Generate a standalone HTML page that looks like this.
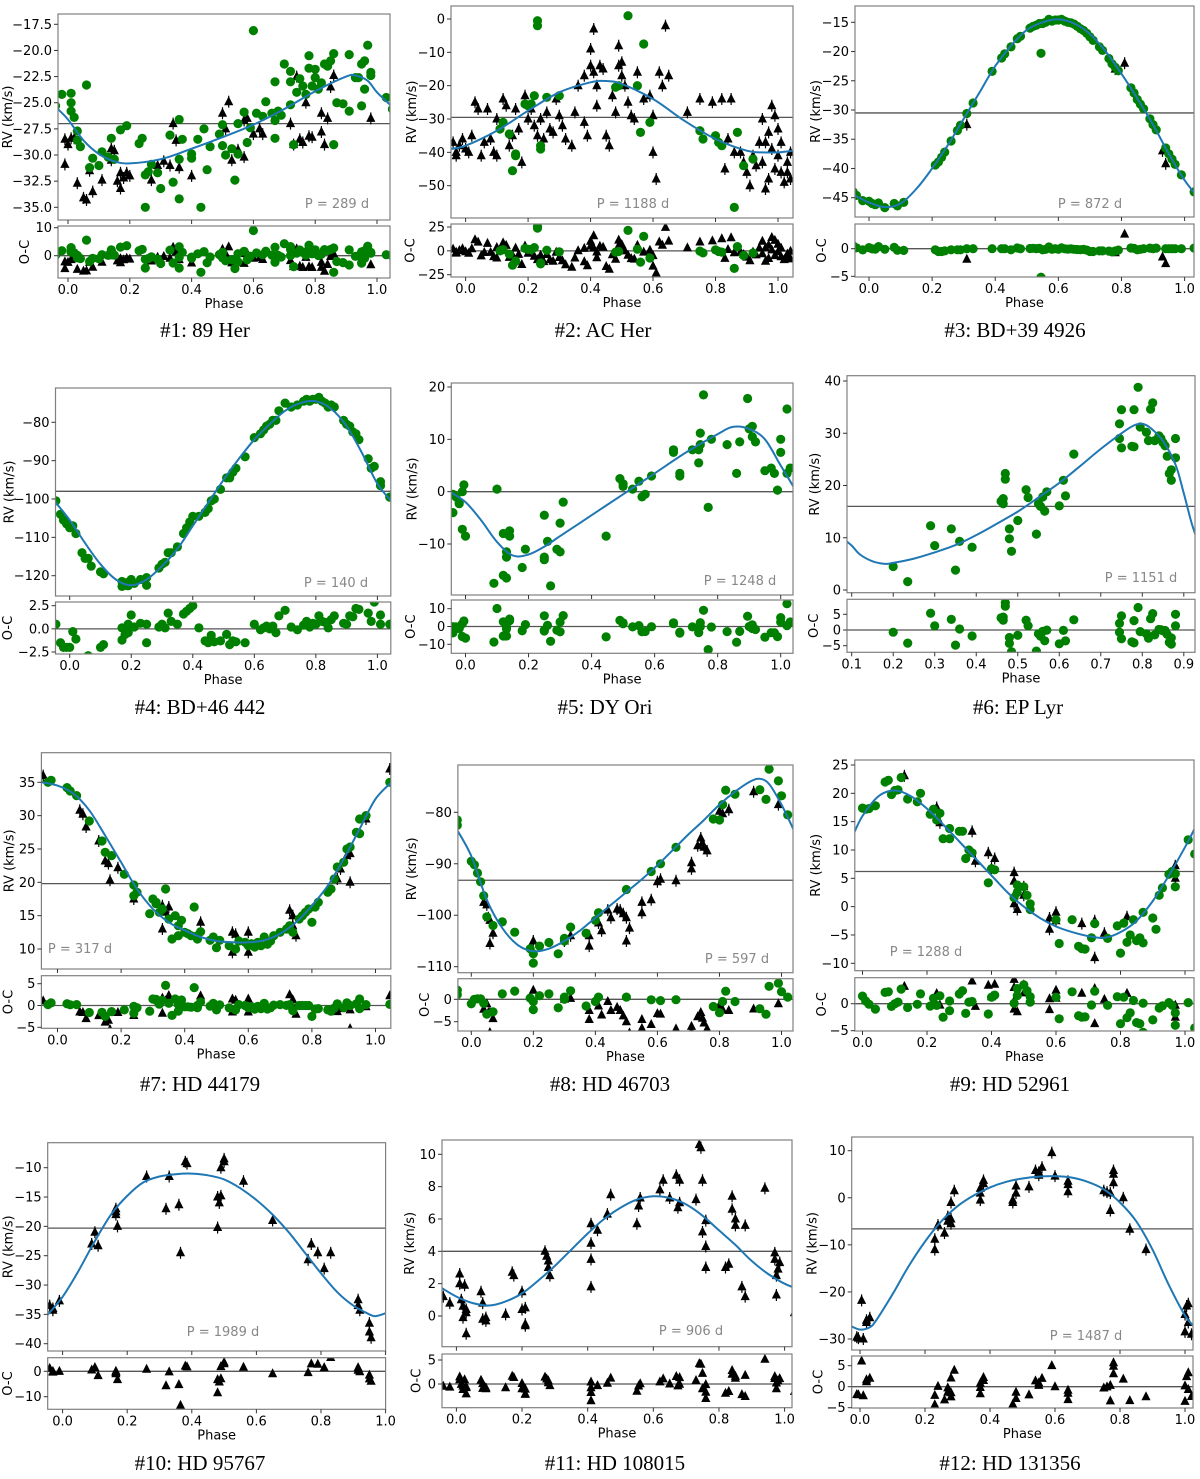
<!DOCTYPE html>
<html><head><meta charset="utf-8"><title>RV curves</title>
<style>
html,body{margin:0;padding:0;background:#fff;}
svg{display:block;}
text{font-family:"DejaVu Sans","Liberation Sans",sans-serif;}
text.title{font-family:"Liberation Serif",serif;font-size:21px;fill:#000;}
</style></head>
<body>
<svg id="fig" width="1200" height="1479" viewBox="0 0 1200 1479" xmlns="http://www.w3.org/2000/svg"></svg>
<script>
var p1Curve=[[-0.04,-25.4],[0,-26.6],[0.05,-28.6],[0.1,-29.9],[0.15,-30.6],[0.2,-30.8],[0.3,-30.4],[0.4,-29.4],[0.5,-28.3],[0.6,-27.1],[0.7,-25.6],[0.8,-23.9],[0.9,-22.5],[0.93,-22.4],[0.97,-22.9],[1.0,-24.0],[1.05,-25.4]];
var p1Green=[[-0.04,-25.3],[-0.02,-24.2],[0.01,-25],[0.01,-25.8],[0.01,-24.1],[0.02,-26.4],[0.04,-29.2],[0.06,-23.3],[0.03,-27.7],[0.03,-28.6],[0.07,-31.2],[0.08,-30.3],[0.1,-31],[0.11,-29.7],[0.13,-30.2],[0.14,-28.4],[0.15,-30.4],[0.17,-27.6],[0.19,-27.2],[0.23,-28.9],[0.24,-28.4],[0.25,-31.9],[0.25,-35],[0.26,-31.6],[0.27,-30.9],[0.29,-31.7],[0.3,-33.2],[0.33,-28.1],[0.34,-32.6],[0.36,-34.2],[0.36,-30.4],[0.37,-28.5],[0.36,-26.6],[0.4,-29.9],[0.4,-30.3],[0.42,-28.5],[0.43,-35],[0.44,-27.5],[0.45,-31.4],[0.46,-29.2],[0.49,-28],[0.5,-27.1],[0.5,-29.1],[0.51,-30],[0.53,-29.4],[0.54,-32.4],[0.55,-29.9],[0.55,-27],[0.57,-25.9],[0.58,-28.8],[0.59,-27.4],[0.6,-18.1],[0.61,-26],[0.63,-26.3],[0.64,-24.9],[0.66,-26],[0.67,-23],[0.67,-26.7],[0.67,-28.4],[0.68,-25.8],[0.69,-26.2],[0.7,-21.3],[0.72,-22],[0.72,-23],[0.72,-25.2],[0.73,-29],[0.74,-24],[0.75,-22.7],[0.76,-23.4],[0.77,-24.2],[0.78,-21.7],[0.78,-20.5],[0.79,-23.4],[0.8,-21.8],[0.8,-22.6],[0.81,-23.7],[0.82,-23.1],[0.83,-21.3],[0.84,-21.5],[0.85,-21],[0.86,-20.3],[0.86,-29],[0.87,-25],[0.89,-25.1],[0.91,-20.4],[0.91,-25.8],[0.93,-22.6],[0.94,-22.6],[0.95,-25.3],[0.95,-21.3],[0.96,-23.7],[0.96,-21],[0.97,-19.5],[0.98,-22.1],[0.98,-22.4],[1.03,-24.5],[1.05,-25.6]];
var p1Tri=[[-0.01,-28.5],[-0.01,-30.9],[0,-29],[0.01,-28.4],[0.02,-28.4],[0.03,-32.7],[0.05,-34.1],[0.06,-34.3],[0.07,-31.5],[0.08,-33.5],[0.11,-32.4],[0.14,-29.4],[0.14,-30.5],[0.15,-29.6],[0.16,-32.5],[0.17,-31.7],[0.17,-33.2],[0.18,-32.2],[0.19,-31.7],[0.2,-32],[0.27,-32.4],[0.29,-31],[0.31,-30.6],[0.33,-31],[0.34,-27],[0.35,-28.6],[0.36,-31.2],[0.4,-32],[0.5,-26],[0.51,-27.5],[0.52,-24.9],[0.53,-30.5],[0.55,-29.5],[0.57,-26.7],[0.57,-30.2],[0.58,-26.5],[0.6,-28],[0.62,-27.5],[0.63,-28],[0.72,-27],[0.73,-29],[0.74,-22.5],[0.75,-28.5],[0.76,-28.8],[0.77,-25],[0.78,-28.2],[0.79,-28.3],[0.82,-26],[0.82,-27.8],[0.83,-29],[0.84,-26.5],[0.85,-23.5],[0.86,-22.4],[0.98,-26.5]];
var p2Curve=[[-0.05,-39],[0,-38],[0.1,-33.5],[0.2,-27.5],[0.3,-22],[0.4,-19],[0.45,-18.6],[0.5,-19.5],[0.6,-24],[0.7,-30.5],[0.8,-36],[0.9,-39.5],[0.95,-40],[1.0,-40],[1.05,-39.5]];
var p2Green=[[0.11,-33],[0.12,-31],[0.14,-34.5],[0.16,-41],[0.16,-40.5],[0.15,-45.5],[0.19,-25.5],[0.2,-26],[0.21,-25.5],[0.22,-23],[0.23,-0.5],[0.23,-2],[0.24,-38],[0.24,-39],[0.26,-23.5],[0.3,-23],[0.52,1],[0.48,-20.5],[0.55,-20],[0.56,-34],[0.57,-7.5],[0.59,-31],[0.75,-33.5],[0.76,-36],[0.8,-35],[0.81,-37],[0.82,-38],[0.86,-56.5],[0.87,-34],[0.89,-44],[0.92,-42],[0.49,-20]];
var p2Tri=[[-0.04,-37],[-0.03,-40],[-0.03,-41],[-0.02,-38],[-0.01,-36],[0,-39],[0.01,-40],[0.02,-35],[0.03,-25],[0.04,-27],[0.05,-41],[0.06,-37],[0.07,-27],[0.08,-36],[0.09,-40],[0.1,-30],[0.1,-41],[0.12,-24],[0.13,-26],[0.14,-38],[0.15,-35],[0.16,-27],[0.17,-33],[0.18,-43],[0.19,-23],[0.2,-30],[0.21,-27],[0.22,-32],[0.23,-35],[0.24,-30],[0.25,-36],[0.26,-28],[0.27,-33],[0.28,-34],[0.29,-24],[0.3,-29],[0.31,-32],[0.32,-36],[0.34,-38],[0.35,-28],[0.36,-20],[0.38,-17],[0.38,-31],[0.39,-35],[0.4,-14],[0.41,-16],[0.42,-20],[0.42,-26],[0.43,-14],[0.44,-15],[0.45,-35],[0.46,-38],[0.47,-23],[0.48,-28],[0.49,-14],[0.5,-13],[0.5,-17],[0.51,-20],[0.52,-25],[0.53,-29],[0.54,-30],[0.55,-16],[0.57,-24],[0.59,-23],[0.6,-29],[0.62,-16],[0.63,-20],[0.64,-2],[0.65,-17],[0.6,-40],[0.61,-48],[0.71,-28],[0.75,-24],[0.79,-25],[0.82,-24],[0.84,-36],[0.85,-24],[0.88,-40],[0.9,-46],[0.92,-41],[0.93,-44],[0.94,-37],[0.95,-43],[0.96,-51],[0.97,-48],[0.98,-39],[0.98,-26],[0.99,-45],[1.0,-33],[1.0,-41],[1.01,-37],[1.02,-49],[1.03,-46],[1.03,-43],[1.04,-40],[1.04,-48],[0.91,-50],[0.89,-43],[0.95,-30],[0.96,-37],[0.97,-34],[1.01,-46],[0.99,-29],[0.83,-45],[0.86,-40],[0.41,-3],[0.4,-9],[0.49,-8]];
var p3Curve=[[-0.05,-44.5],[0,-45.8],[0.05,-46.6],[0.1,-46],[0.15,-43.5],[0.2,-40],[0.25,-36],[0.3,-31.5],[0.35,-27],[0.4,-22.5],[0.45,-19],[0.5,-16.3],[0.55,-15],[0.6,-14.5],[0.65,-15.2],[0.7,-17],[0.75,-20],[0.8,-23.8],[0.85,-28],[0.9,-32.5],[0.95,-37.5],[1.0,-42],[1.05,-45.5]];
var p3Green=[[-0.05,-44],[-0.04,-44.6],[-0.02,-45.5],[0,-45.6],[0.01,-46],[0.02,-46.2],[0.03,-45.9],[0.05,-46.7],[0.08,-46],[0.09,-46.4],[0.11,-45.8],[0.21,-39.4],[0.22,-38.9],[0.23,-38.1],[0.24,-37.2],[0.26,-35.3],[0.28,-33.5],[0.29,-32.6],[0.31,-30.6],[0.33,-28.8],[0.39,-23.4],[0.42,-21.1],[0.43,-20.4],[0.45,-19.2],[0.47,-17.8],[0.48,-17.4],[0.51,-16],[0.52,-15.7],[0.53,-15.5],[0.54,-15.2],[0.545,-20.3],[0.55,-15.2],[0.56,-15],[0.57,-14.5],[0.58,-14.8],[0.59,-14.6],[0.6,-14.6],[0.61,-14.5],[0.62,-14.8],[0.63,-15],[0.64,-15.1],[0.65,-15.3],[0.66,-15.7],[0.67,-16.1],[0.68,-16.4],[0.69,-16.9],[0.7,-17.5],[0.71,-18.1],[0.73,-19.2],[0.74,-19.8],[0.76,-21.2],[0.77,-22.1],[0.78,-22.7],[0.79,-23.3],[0.83,-26.2],[0.84,-27.1],[0.85,-28.2],[0.86,-29],[0.87,-29.8],[0.89,-31.5],[0.9,-32.5],[0.91,-33.4],[0.94,-36.5],[0.95,-37.5],[0.96,-38.4],[0.97,-39.3],[0.99,-41.1],[1.03,-44]];
var p3Tri=[[0.31,-32.5],[0.78,-23],[0.81,-22],[0.93,-37],[0.94,-39.2]];
var p4Curve=[[-0.05,-100.5],[0,-105.5],[0.05,-111.5],[0.1,-117],[0.15,-121],[0.2,-122.5],[0.25,-121],[0.3,-117.5],[0.35,-113],[0.4,-107],[0.45,-101],[0.5,-95],[0.55,-89.5],[0.6,-84.5],[0.65,-80.5],[0.7,-77],[0.75,-75],[0.8,-74.5],[0.85,-76.5],[0.9,-81],[0.95,-88],[1.0,-96],[1.05,-101]];
var p4Green=[[-0.045,-100.5],[-0.03,-104],[-0.02,-105.5],[-0.01,-106.5],[0,-107.5],[0.01,-107],[0.02,-109],[0.04,-114],[0.05,-115.5],[0.06,-115.5],[0.07,-117.5],[0.1,-119],[0.11,-119.5],[0.17,-122.8],[0.17,-121.5],[0.18,-122.5],[0.19,-121.7],[0.19,-122.6],[0.2,-121],[0.21,-122],[0.23,-121],[0.25,-122.5],[0.25,-120.5],[0.29,-118],[0.3,-117],[0.31,-116.5],[0.32,-114],[0.33,-114],[0.35,-112.5],[0.37,-109],[0.38,-107.5],[0.39,-106],[0.4,-104.5],[0.42,-104.5],[0.44,-103.5],[0.45,-102.5],[0.46,-100.5],[0.47,-100],[0.49,-97.5],[0.51,-94.5],[0.52,-94.5],[0.53,-93],[0.54,-92],[0.57,-89],[0.6,-84],[0.62,-83],[0.63,-82],[0.64,-81],[0.65,-80.5],[0.66,-79.5],[0.67,-79.5],[0.68,-77],[0.7,-75],[0.72,-76],[0.74,-75.5],[0.76,-74.5],[0.77,-74],[0.78,-74.5],[0.79,-74],[0.8,-74],[0.81,-73.5],[0.82,-74.5],[0.83,-75],[0.84,-76],[0.85,-75.5],[0.86,-76],[0.89,-79.5],[0.9,-80.5],[0.91,-81],[0.92,-82.5],[0.93,-83],[0.94,-84.5],[0.97,-89.5],[0.98,-92],[0.99,-91.5],[1.01,-95.5],[1.01,-96.5],[1.04,-99.5]];
var p4Tri=[];
var p5Curve=[[-0.05,0],[0,-2],[0.05,-5.5],[0.1,-9.6],[0.15,-12.2],[0.2,-12],[0.25,-10.5],[0.3,-8.5],[0.4,-4.5],[0.5,-0.5],[0.6,3.5],[0.7,7.5],[0.8,11],[0.85,12.4],[0.9,12],[0.95,10],[1.0,5],[1.05,0]];
var p5Green=[[-0.04,-4],[-0.04,-0.5],[-0.03,-1],[-0.02,-2],[-0.01,0],[-0.005,1.3],[-0.02,-2.3],[-0.01,-7.2],[0,-8.5],[0.1,0.5],[0.12,-8],[0.14,-7.5],[0.14,-8.5],[0.13,-11.5],[0.13,-12.5],[0.12,-16],[0.13,-16.5],[0.09,-17.5],[0.19,-11],[0.18,-14.5],[0.25,-12.5],[0.25,-13],[0.26,-9.5],[0.25,-4.5],[0.3,-11.5],[0.29,-11],[0.3,-6],[0.31,-2],[0.27,-18],[0.446,-8.5],[0.49,2.5],[0.5,1.5],[0.5,1],[0.53,0.5],[0.55,2],[0.56,-1],[0.57,-0.5],[0.59,3],[0.66,7.5],[0.66,8],[0.68,3.5],[0.68,3],[0.72,8],[0.74,8],[0.74,5.5],[0.745,9],[0.745,11.2],[0.755,18.5],[0.77,-3],[0.78,10],[0.83,9],[0.86,3.5],[0.87,9.5],[0.895,17.8],[0.9,12],[0.91,12.5],[0.91,10.5],[0.92,9.5],[0.95,4],[0.97,4.5],[0.98,3.5],[0.99,0.3],[1.0,7.5],[1.0,10],[1.02,15.8],[1.02,3.5],[1.03,4.5]];
var p5Tri=[];
var p6Curve=[[0.08,9.8],[0.1,8.5],[0.12,6.8],[0.15,5.5],[0.18,5],[0.2,5.2],[0.25,6],[0.3,7.2],[0.35,8.6],[0.4,10.5],[0.45,12.7],[0.5,15],[0.55,17.7],[0.6,20.5],[0.65,23.7],[0.7,27],[0.75,30],[0.78,31.5],[0.8,31.8],[0.82,31],[0.85,28.5],[0.88,24],[0.9,18.5],[0.92,12.5],[0.94,8]];
var p6Green=[[0.2,4.5],[0.235,1.6],[0.29,12.3],[0.3,8.5],[0.34,11.7],[0.35,3.8],[0.36,9.3],[0.39,8.2],[0.46,17],[0.465,16.5],[0.465,17.5],[0.47,22.3],[0.47,21.2],[0.48,11.7],[0.48,9.8],[0.485,7.4],[0.5,13.3],[0.52,19.2],[0.525,17.7],[0.545,10.7],[0.55,16.5],[0.555,16],[0.56,17.8],[0.565,15.1],[0.57,18.8],[0.6,16.1],[0.61,21],[0.615,18],[0.635,26],[0.745,31.8],[0.745,29],[0.75,34.5],[0.75,27.2],[0.775,27.5],[0.78,34.5],[0.78,27.4],[0.79,38.8],[0.795,31.2],[0.81,30.2],[0.815,28.6],[0.82,34.6],[0.825,35.8],[0.83,28.6],[0.84,29.5],[0.845,29],[0.85,28.2],[0.855,27.6],[0.86,25.6],[0.865,22.3],[0.87,23],[0.87,21],[0.88,25.3],[0.88,29]];
var p6Tri=[];
var p7Curve=[[-0.05,35],[0,34.5],[0.05,33.3],[0.1,30.8],[0.15,27],[0.2,23],[0.25,19],[0.3,16],[0.35,14],[0.4,12.8],[0.45,11.8],[0.5,11.2],[0.55,11],[0.6,11],[0.65,11.3],[0.7,12.3],[0.75,14],[0.8,16.5],[0.85,19.5],[0.9,23.5],[0.95,28],[1.0,32.5],[1.05,35]];
var p7Green=[[-0.03,35],[-0.02,35.3],[0.03,34.2],[0.04,33.7],[0.06,33],[0.1,29.2],[0.14,26.2],[0.15,24.5],[0.17,24],[0.21,21.2],[0.24,19.6],[0.24,18],[0.25,18.5],[0.29,15.3],[0.3,17.5],[0.31,17],[0.31,16.8],[0.32,15.5],[0.33,16],[0.34,19],[0.35,14.5],[0.36,11.5],[0.37,15],[0.38,13.5],[0.38,12],[0.39,14.3],[0.4,12.5],[0.41,12.3],[0.42,12],[0.43,16.3],[0.44,12],[0.44,11.5],[0.45,12.6],[0.48,11.3],[0.49,11.8],[0.5,10.2],[0.51,11.3],[0.54,10.5],[0.56,10],[0.57,11.2],[0.59,11],[0.6,10.5],[0.61,10.8],[0.62,10.3],[0.63,11],[0.64,10.5],[0.65,11.8],[0.66,10.7],[0.67,11.2],[0.68,12],[0.7,12.5],[0.72,13],[0.73,13.5],[0.74,12.5],[0.76,14.5],[0.77,15],[0.78,15.5],[0.79,16],[0.8,14],[0.81,16.3],[0.82,17],[0.85,18.5],[0.86,19],[0.87,20.5],[0.88,22.3],[0.9,23],[0.91,25],[0.92,25.3],[0.94,27.5],[0.95,27.3],[0.95,29.5],[0.97,30],[1.045,35]];
var p7Tri=[[-0.045,36],[0.07,30.8],[0.08,30.2],[0.09,28.3],[0.13,26.2],[0.15,23.2],[0.16,22.8],[0.165,20.3],[0.19,22.2],[0.24,17.5],[0.33,16.5],[0.33,13],[0.34,15.5],[0.35,16.3],[0.45,14],[0.55,12.5],[0.55,9.5],[0.56,12.2],[0.6,9.5],[0.6,12.5],[0.73,15.8],[0.74,15],[0.74,13.5],[0.75,12],[0.88,20.5],[0.89,22],[0.91,24],[0.92,24.3],[0.92,20],[0.97,29.5],[1.045,37]];
var p8Curve=[[-0.05,-83],[0,-88.5],[0.05,-97],[0.1,-102.5],[0.15,-105.8],[0.2,-107],[0.25,-106.5],[0.3,-105],[0.35,-103],[0.4,-100.5],[0.45,-98],[0.5,-95.5],[0.55,-93],[0.6,-90.3],[0.65,-87.3],[0.7,-84.3],[0.75,-81.5],[0.8,-78.5],[0.85,-76],[0.9,-74],[0.93,-73.5],[0.96,-74.5],[1.0,-78.5],[1.04,-83.5]];
var p8Green=[[-0.045,-81.5],[-0.045,-82.5],[0,-89.5],[0.01,-90.2],[0.02,-91.8],[0.03,-93.5],[0.04,-96.2],[0.05,-100.3],[0.07,-102],[0.1,-101.3],[0.14,-103.3],[0.19,-106.5],[0.2,-107.5],[0.2,-109.3],[0.22,-106],[0.25,-105.3],[0.28,-107.5],[0.3,-104.5],[0.3,-105],[0.32,-102.3],[0.37,-103.5],[0.4,-101],[0.41,-99.5],[0.5,-95],[0.58,-91.5],[0.61,-90],[0.66,-86.8],[0.78,-81.3],[0.8,-81.5],[0.81,-78.5],[0.82,-75.7],[0.85,-76.5],[0.93,-75.6],[0.95,-77.5],[0.96,-71.6],[0.99,-73.9],[1.0,-76.8],[1.02,-80.5]];
var p8Tri=[[0.04,-97.5],[0.05,-98],[0.055,-100.5],[0.06,-101],[0.07,-103.5],[0.06,-105.5],[0.2,-105],[0.3,-105],[0.32,-104],[0.38,-104],[0.38,-106],[0.41,-101.5],[0.42,-103],[0.44,-99],[0.45,-100.5],[0.47,-98.8],[0.48,-99],[0.49,-99.7],[0.5,-100.5],[0.51,-102.5],[0.5,-105],[0.55,-97.5],[0.55,-99.5],[0.58,-97],[0.6,-93.5],[0.61,-93],[0.66,-93.3],[0.71,-89.8],[0.71,-91],[0.73,-86.5],[0.74,-85],[0.745,-86],[0.75,-86.8],[0.76,-87.5],[0.8,-79.8],[0.81,-80.3],[0.83,-79.5],[0.91,-76],[0.99,-78.5]];
var p9Curve=[[-0.03,12.5],[0,16],[0.05,19.5],[0.1,20.5],[0.15,19.5],[0.2,17.3],[0.25,14.5],[0.3,11.5],[0.35,8.5],[0.4,5.5],[0.45,2.5],[0.5,0],[0.55,-2],[0.6,-3.5],[0.65,-4.5],[0.7,-5.2],[0.75,-5.5],[0.8,-4.5],[0.85,-2.5],[0.9,1],[0.95,5.5],[1.0,10.5],[1.03,13.8]];
var p9Green=[[0,17.4],[0.01,17.2],[0.02,17.3],[0.04,17.8],[0.07,22],[0.08,22.3],[0.09,19.8],[0.1,20.5],[0.11,20.6],[0.12,22.8],[0.14,19],[0.17,18.5],[0.18,20],[0.21,16.3],[0.22,17.2],[0.23,15.3],[0.24,16.5],[0.25,12],[0.27,13.8],[0.27,12],[0.3,13.3],[0.31,13.3],[0.32,8.5],[0.33,10],[0.34,9.5],[0.39,4.2],[0.4,6.7],[0.41,6.5],[0.47,1.6],[0.48,2.5],[0.48,3.8],[0.5,3.5],[0.51,2],[0.52,-0.5],[0.52,0.5],[0.6,-2.3],[0.61,-6.5],[0.65,-2.3],[0.67,-7],[0.68,-7.4],[0.69,-7.5],[0.71,-5.5],[0.72,-3],[0.76,-5.6],[0.79,-3.4],[0.8,-8.2],[0.81,-2.9],[0.82,-6.3],[0.83,-5],[0.84,-2.3],[0.85,-6],[0.86,-5.5],[0.87,-6.4],[0.87,-1],[0.9,-2],[0.91,-4],[0.92,2],[0.93,3.3],[0.95,5.7],[0.96,6.2],[0.97,5.8],[0.97,3.5],[1.01,11.8],[1.03,9.3]];
var p9Tri=[[0.13,23.1],[0.23,17.5],[0.24,14.8],[0.34,13.3],[0.35,8],[0.39,9.5],[0.4,6.8],[0.41,8.5],[0.47,6],[0.47,4.5],[0.47,2],[0.47,0.5],[0.48,-0.5],[0.5,3.5],[0.5,2],[0.58,-2],[0.58,-4],[0.6,-2.5],[0.6,-1],[0.68,-3],[0.72,-2.5],[0.72,-9],[0.75,-4.7],[0.82,-1.8],[0.97,7.2],[0.97,5]];
var p10Curve=[[-0.05,-35.3],[0,-32],[0.05,-27.5],[0.1,-22.5],[0.15,-18],[0.2,-14.8],[0.25,-12.5],[0.3,-11.5],[0.35,-11.1],[0.4,-11],[0.45,-11.3],[0.5,-12],[0.55,-13.5],[0.6,-15.5],[0.65,-18],[0.7,-21],[0.75,-24.5],[0.8,-28],[0.85,-31.2],[0.9,-33.5],[0.95,-35],[0.97,-35.3],[1.0,-34.8]];
var p10Green=[];
var p10Tri=[[-0.04,-33.5],[-0.03,-34],[-0.03,-34.3],[-0.01,-32.7],[0.09,-23],[0.1,-21],[0.11,-23.3],[0.165,-17.5],[0.165,-18],[0.17,-20],[0.165,-17],[0.26,-11.5],[0.33,-11.5],[0.32,-17],[0.36,-16.3],[0.365,-24.5],[0.38,-9],[0.385,-9.3],[0.48,-20.2],[0.48,-15],[0.485,-16],[0.49,-14.8],[0.49,-10],[0.5,-9],[0.5,-8.5],[0.56,-12.3],[0.65,-19],[0.76,-25.7],[0.77,-23],[0.79,-24.5],[0.81,-27.2],[0.83,-24.5],[0.915,-32.5],[0.915,-33.5],[0.92,-34.3],[0.95,-36.5],[0.95,-38],[0.955,-39]];
var p11Curve=[[-0.05,1.8],[0,1.2],[0.05,0.8],[0.1,0.65],[0.15,0.9],[0.2,1.4],[0.25,2.2],[0.3,3.1],[0.35,4.1],[0.4,5.1],[0.45,6],[0.5,6.7],[0.55,7.2],[0.6,7.4],[0.65,7.3],[0.7,6.9],[0.75,6.2],[0.8,5.3],[0.85,4.4],[0.9,3.4],[0.95,2.6],[1.0,2],[1.05,1.6]];
var p11Green=[];
var p11Tri=[[-0.04,1.2],[-0.02,0.8],[0.01,2.6],[0.01,2],[0.015,1],[0.02,0.6],[0.02,-0.1],[0.025,1.9],[0.03,0.4],[0.03,-1.1],[0.03,0.2],[0.075,1.5],[0.08,0.8],[0.08,-0.2],[0.09,-0.1],[0.09,-0.3],[0.15,0.1],[0.17,2.7],[0.175,2.5],[0.2,1.5],[0.2,0.4],[0.21,-0.5],[0.21,-0.6],[0.21,0.5],[0.27,4],[0.275,3.7],[0.28,3.4],[0.28,3],[0.285,2.5],[0.41,5.7],[0.41,4.5],[0.41,3.5],[0.41,1.8],[0.43,5.3],[0.46,6.3],[0.47,7.5],[0.55,5.7],[0.555,6.8],[0.56,7.3],[0.62,7.8],[0.63,8.4],[0.65,7.3],[0.67,8.7],[0.675,6.7],[0.68,7],[0.68,8.4],[0.73,7.2],[0.74,10.6],[0.745,10.4],[0.75,8.4],[0.75,5.2],[0.76,5.9],[0.76,4.3],[0.76,3],[0.82,3],[0.83,3.2],[0.84,7.4],[0.84,6.6],[0.85,6],[0.85,5.6],[0.88,5.6],[0.87,1.8],[0.88,1.2],[0.94,7.9],[0.97,3.9],[0.97,3.5],[0.975,2.5],[0.975,1.3],[0.98,2.9],[0.985,3.3],[1.03,0.2]];
var p12Curve=[[-0.03,-27.2],[0,-28],[0.03,-27.5],[0.05,-26],[0.1,-20.5],[0.15,-14.5],[0.2,-9.3],[0.25,-5],[0.3,-1.8],[0.35,0.5],[0.4,2.2],[0.45,3.4],[0.5,4.1],[0.55,4.5],[0.6,4.6],[0.65,4.3],[0.7,3.4],[0.75,1.8],[0.8,-1],[0.85,-5],[0.9,-11],[0.95,-18.5],[1.0,-25],[1.03,-27.5]];
var p12Green=[];
var p12Tri=[[0.005,-21.8],[-0.01,-29.6],[-0.005,-29.8],[0.01,-30],[0.02,-26.5],[0.03,-25.5],[0.02,-26],[0.23,-8.8],[0.23,-11],[0.24,-5.8],[0.26,-7.5],[0.27,-5],[0.27,-4],[0.28,-5.5],[0.28,-4.5],[0.28,-1],[0.29,1.5],[0.37,-0.5],[0.37,1],[0.37,2],[0.38,3],[0.38,3.7],[0.47,-1],[0.47,-0.5],[0.48,1],[0.48,2.5],[0.52,2.3],[0.54,5.8],[0.55,5.4],[0.56,6.5],[0.55,4.8],[0.59,9.6],[0.6,4.6],[0.64,1.3],[0.64,2.8],[0.64,3.5],[0.75,1.5],[0.76,1.2],[0.77,-2.7],[0.77,1],[0.78,3.2],[0.78,5],[0.78,5.8],[0.81,0],[0.83,-6.7],[0.88,-11],[1.0,-28.5],[1.0,-24.8],[1.005,-23],[1.01,-26.5],[1.01,-22.5],[1.02,-29]];
var meanRv=[-27,-29.5,-30.5,-98,0,16,19.8,-93.2,6.2,-20.3,4,-6.6];
var periods=[289,1188,872,140,1248,1151,317,597,1288,1989,906,1487];
var starNames=["89 Her","AC Her","BD+39 4926","BD+46 442","DY Ori","EP Lyr","HD 44179","HD 46703","HD 52961","HD 95767","HD 108015","HD 131356"];
var yTicks=[[-17.5,-20,-22.5,-25,-27.5,-30,-32.5,-35],[0,-10,-20,-30,-40,-50],[-15,-20,-25,-30,-35,-40,-45],[-80,-90,-100,-110,-120],[20,10,0,-10],[0,10,20,30,40],[10,15,20,25,30,35],[-80,-90,-100,-110],[25,20,15,10,5,0,-5,-10],[-10,-15,-20,-25,-30,-35,-40],[0,2,4,6,8,10],[10,0,-10,-20,-30]];
var ocTicks=[[10,0],[25,0,-25],[0,-5],[2.5,0,-2.5],[10,0,-10],[5,0,-5],[5,0,-5],[0,-5],[0,-5],[0,-10],[5,0],[5,0,-5]];
var phaseTicks=[0,0.2,0.4,0.6,0.8,1.0];
var phaseTicksEP=[0.1,0.2,0.3,0.4,0.5,0.6,0.7,0.8,0.9];

var layout=[
 {box:[58,14,390,220],ph:[0,68,1,377],y:[-17.5,24.3,-35,207.3],oc:[58,226,390,278],ocy:[10,227.7,0,255.7],dec:1,ocdec:0,pl:[337,203],title:[205,330]},
 {box:[451,6,793,218],ph:[0,465.6,1,778],y:[0,19,-50,185.7],oc:[451,224,793,277],ocy:[25,227,-25,274.7],dec:0,ocdec:0,pl:[633,203],title:[603,330]},
 {box:[855,6,1194,217],ph:[0,869,1,1184.6],y:[-15,22.3,-45,197.7],oc:[855,224,1194,277],ocy:[0,248.7,-5,276.3],dec:0,ocdec:0,pl:[1090,203],title:[1015,330]},
 {box:[55.5,388,390.8,596],ph:[0,69.7,1,377.4],y:[-80,422.3,-120,575.7],oc:[55.5,602,390.8,654],ocy:[2.5,605.7,-2.5,652],dec:0,ocdec:1,pl:[336,582],title:[200,707]},
 {box:[451.3,383,793,595],ph:[0,465.5,1,780.7],y:[20,387,-10,544],oc:[451.3,600,793,653.3],ocy:[10,608.7,-10,644.3],dec:0,ocdec:0,pl:[740,580],title:[605,707]},
 {box:[847,375.7,1195,592.7],ph:[0.1,851.7,0.9,1183.8],y:[40,381,0,590],oc:[847,599.3,1195,652.3],ocy:[5,614.3,-5,645.7],dec:0,ocdec:0,pl:[1141,577],title:[1018,707],ep:true},
 {box:[41.4,752.7,390.8,969],ph:[0,57.5,1,375.5],y:[35,782.3,10,949],oc:[41.4,975.7,390.8,1028.3],ocy:[5,983.7,-5,1027.3],dec:0,ocdec:0,pl:[80,948],title:[200,1084]},
 {box:[457.9,765,793,972.7],ph:[0,471.3,1,781.5],y:[-80,812.3,-110,966.7],oc:[457.9,978.7,793,1031],ocy:[0,999.3,-5,1021.7],dec:0,ocdec:0,pl:[737,958],title:[610,1084]},
 {box:[854.8,760,1194,970.7],ph:[0,862.5,1,1185],y:[25,765,-10,963.3],oc:[854.8,977.7,1194,1031],ocy:[0,1003.7,-5,1030.7],dec:0,ocdec:0,pl:[926,951],title:[1010,1084]},
 {box:[47.7,1142.7,385.6,1351],ph:[0,62.6,1,385.6],y:[-10,1167.7,-40,1343.7],oc:[47.7,1357.7,385.6,1409.3],ocy:[0,1371.3,-10,1396.7],dec:0,ocdec:0,pl:[223,1331],title:[200,1463]},
 {box:[442,1140,792,1346.7],ph:[0,456.4,1,784.6],y:[10,1154.3,0,1316],oc:[442,1354,792,1407.7],ocy:[5,1360,0,1384],dec:0,ocdec:0,pl:[691,1330],title:[615,1463]},
 {box:[851.7,1137,1193,1350],ph:[0,860,1,1185],y:[10,1150.7,-30,1339],oc:[851.7,1356,1193,1408],ocy:[5,1365.7,0,1386.7],dec:0,ocdec:0,pl:[1086,1335],title:[1010,1463]}
];
var curves=[p1Curve,p2Curve,p3Curve,p4Curve,p5Curve,p6Curve,p7Curve,p8Curve,p9Curve,p10Curve,p11Curve,p12Curve];
var greens=[p1Green,p2Green,p3Green,p4Green,p5Green,p6Green,p7Green,p8Green,p9Green,p10Green,p11Green,p12Green];
var tris=[p1Tri,p2Tri,p3Tri,p4Tri,p5Tri,p6Tri,p7Tri,p8Tri,p9Tri,p10Tri,p11Tri,p12Tri];

var NS="http://www.w3.org/2000/svg";
var svgRoot=document.getElementById('fig');
function mk(tag,attrs,parent){var e=document.createElementNS(NS,tag);for(var k in attrs){e.setAttribute(k,String(attrs[k]));}parent.appendChild(e);return e;}
function lin(v,r){return r[1]+(v-r[0])*(r[3]-r[1])/(r[2]-r[0]);}
function fmt(v,d){var s=v.toFixed(d);return s.replace('-','\u2212');}
function maxLen(arr,d){var m=0;for(var i=0;i<arr.length;i++){var l=fmt(arr[i],d).length;if(l>m)m=l;}return m;}
function model(c,ph){if(ph<=c[0][0])return c[0][1];for(var i=1;i<c.length;i++){if(ph<=c[i][0]){var a=c[i-1],b=c[i];return a[1]+(ph-a[0])*(b[1]-a[1])/(b[0]-a[0]);}}return c[c.length-1][1];}
function smoothPath(pts){var d='M'+pts[0][0].toFixed(1)+','+pts[0][1].toFixed(1);for(var i=0;i<pts.length-1;i++){var q0=pts[Math.max(0,i-1)],q1=pts[i],q2=pts[i+1],q3=pts[Math.min(pts.length-1,i+2)];var c1x=q1[0]+(q2[0]-q0[0])/6,c1y=q1[1]+(q2[1]-q0[1])/6,c2x=q2[0]-(q3[0]-q1[0])/6,c2y=q2[1]-(q3[1]-q1[1])/6;d+=' C'+c1x.toFixed(1)+','+c1y.toFixed(1)+' '+c2x.toFixed(1)+','+c2y.toFixed(1)+' '+q2[0].toFixed(1)+','+q2[1].toFixed(1);}return d;}
var defs=mk('defs',{},svgRoot);

function drawGreen(g,x,y,i){var c=mk('circle',{cx:x.toFixed(1),cy:y.toFixed(1),r:4.6,fill:'#008000'},g);

}
function drawTri(g,x,y,i,err){var gg=mk('g',{},g);


mk('line',{x1:x.toFixed(1),y1:(y-err).toFixed(1),x2:x.toFixed(1),y2:(y+err).toFixed(1),stroke:'#000','stroke-width':1.2},gg);
mk('path',{d:'M'+x.toFixed(1)+','+(y-5.5).toFixed(1)+' l4.6,9 l-9.2,0 z',fill:'#000'},gg);}

function drawPanel(k){
 var L=layout[k];var n=k+1;
 var g=mk('g',{},svgRoot);
 
 
 var bx0=L.box[0],by0=L.box[1],bx1=L.box[2],by1=L.box[3];
 var ox0=L.oc[0],oy0=L.oc[1],ox1=L.oc[2],oy1=L.oc[3];
 var X=function(p){return lin(p,L.ph);},Y=function(v){return lin(v,L.y);},OY=function(v){return lin(v,L.ocy);};
 var cpm=mk('clipPath',{id:'cm'+n},defs);mk('rect',{x:bx0,y:by0,width:bx1-bx0,height:by1-by0},cpm);
 var cpo=mk('clipPath',{id:'co'+n},defs);mk('rect',{x:ox0,y:oy0,width:ox1-ox0,height:oy1-oy0},cpo);
 var hl=mk('line',{x1:bx0,x2:bx1,y1:Y(meanRv[k]),y2:Y(meanRv[k]),stroke:'#555','stroke-width':1.3},g);
 
 
 var pg=mk('g',{'clip-path':'url(#cm'+n+')'},g);
 
 
 tris[k].forEach(function(p,i){drawTri(pg,X(p[0]),Y(p[1]),i,6);});
 greens[k].forEach(function(p,i){drawGreen(pg,X(p[0]),Y(p[1]),i);});
 var cpts=curves[k].map(function(p){return [X(p[0]),Y(p[1])];});
 var cv=mk('path',{d:smoothPath(cpts),fill:'none',stroke:'#1f77b4','stroke-width':2,'clip-path':'url(#cm'+n+')'},g);
 
 
 var fr=mk('rect',{x:bx0,y:by0,width:bx1-bx0,height:by1-by0,fill:'none',stroke:'#808080','stroke-width':1.2},g);
 
 
 yTicks[k].forEach(function(v){var y=Y(v);mk('line',{x1:bx0-4,x2:bx0,y1:y,y2:y,stroke:'#333'},g);
  var t=mk('text',{x:bx0-6,y:y+4.5,'text-anchor':'end','font-size':13,fill:'#000'},g);t.textContent=fmt(v,L.dec);
  
  });
 var xt=L.ep?phaseTicksEP:phaseTicks;
 xt.forEach(function(v){var x=X(v);mk('line',{x1:x,x2:x,y1:by1,y2:by1+4,stroke:'#333'},g);});
 var ylx=Math.max(12,bx0-maxLen(yTicks[k],L.dec)*7-14);
 var yl=mk('text',{x:0,y:0,'text-anchor':'middle','font-size':13,transform:'translate('+ylx+','+((by0+by1)/2)+') rotate(-90)'},g);
 yl.textContent='RV (km/s)';
 
 
 var pl=mk('text',{x:L.pl[0],y:L.pl[1]+5,'text-anchor':'middle','font-size':13,fill:'#888'},g);
 pl.textContent='P = '+periods[k]+' d';
 
 
 var ol=mk('line',{x1:ox0,x2:ox1,y1:OY(0),y2:OY(0),stroke:'#555','stroke-width':1.3},g);
 
 
 var og=mk('g',{'clip-path':'url(#co'+n+')'},g);
 
 
 tris[k].forEach(function(p,i){drawTri(og,X(p[0]),OY(p[1]-model(curves[k],p[0])),i,3);});
 greens[k].forEach(function(p,i){drawGreen(og,X(p[0]),OY(p[1]-model(curves[k],p[0])),i);});
 var ofr=mk('rect',{x:ox0,y:oy0,width:ox1-ox0,height:oy1-oy0,fill:'none',stroke:'#808080','stroke-width':1.2},g);
 
 
 ocTicks[k].forEach(function(v){var y=OY(v);mk('line',{x1:ox0-4,x2:ox0,y1:y,y2:y,stroke:'#333'},g);
  var t=mk('text',{x:ox0-6,y:y+4.5,'text-anchor':'end','font-size':13},g);t.textContent=fmt(v,L.ocdec);
  
  });
 xt.forEach(function(v){var x=X(v);mk('line',{x1:x,x2:x,y1:oy1,y2:oy1+4,stroke:'#333'},g);
  var t=mk('text',{x:x,y:oy1+16,'text-anchor':'middle','font-size':13},g);t.textContent=v.toFixed(1);
  
  });
 var oclx=Math.max(12,ox0-maxLen(ocTicks[k],L.ocdec)*7.5-14);
 var ocl=mk('text',{x:0,y:0,'text-anchor':'middle','font-size':13,transform:'translate('+oclx+','+((oy0+oy1)/2)+') rotate(-90)'},g);
 ocl.textContent='O-C';
 
 
 var xl=mk('text',{x:(ox0+ox1)/2,y:oy1+30,'text-anchor':'middle','font-size':13},g);
 xl.textContent='Phase';
 
 
 var tt=mk('text',{x:L.title[0],y:L.title[1]+7,'text-anchor':'middle','class':'title',style:'font-family:"Liberation Serif",serif;font-size:21px'},g);
 tt.textContent='#'+n+': '+starNames[k];
 
 
}
for(var kk=0;kk<layout.length;kk++){try{drawPanel(kk);}catch(err){}}
</script>
</body></html>
